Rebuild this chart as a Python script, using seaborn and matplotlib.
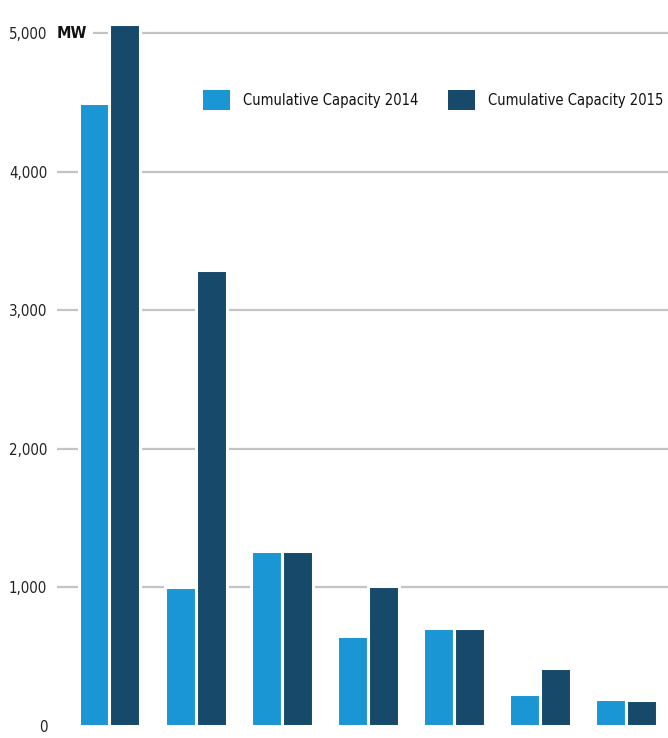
import matplotlib
matplotlib.use("Agg")
import matplotlib.pyplot as plt
import seaborn as sns
import pandas as pd
from matplotlib.patches import Patch
from matplotlib import font_manager
from matplotlib.font_manager import FontProperties

categories = ["1", "2", "3", "4", "5", "6", "7"]
cap_2014 = [4500, 1005, 1265, 650, 705, 232, 198]
cap_2015 = [5070, 3290, 1265, 1010, 705, 418, 185]
series = ["Cumulative Capacity 2014", "Cumulative Capacity 2015"]
yticks = [0, 1000, 2000, 3000, 4000, 5000]
ytick_labels = ["0", "1,000", "2,000", "3,000", "4,000", "5,000"]
colors = ["#1b96d4", "#174a6a"]

# look for a condensed / narrow sans face
reg_path, bold_path = None, None
for f in font_manager.fontManager.ttflist:
    p = f.fname
    low = p.lower()
    if ("condensed" in low or "narrow" in low) and "sans" in low and "mono" not in low \
            and "serif" not in low.replace("sans", "") and "oblique" not in low and "italic" not in low:
        if "bold" in low:
            if bold_path is None:
                bold_path = p
        elif "semi" not in low and "extra" not in low and "light" not in low:
            if reg_path is None:
                reg_path = p

sns.set_theme(style="white")
if reg_path:
    fp_reg = lambda s: FontProperties(fname=reg_path, size=s)
    scale = 1.0
else:
    fp_reg = lambda s: FontProperties(family="Liberation Sans", size=s)
    scale = 0.85
if bold_path:
    fp_bold = lambda s: FontProperties(fname=bold_path, size=s)
else:
    fp_bold = lambda s: FontProperties(family="Liberation Sans", weight="bold", size=s)

df = pd.DataFrame({
    "category": categories * 2,
    "series": [series[0]] * len(categories) + [series[1]] * len(categories),
    "value": cap_2014 + cap_2015,
})

fig = plt.figure(figsize=(6.68, 7.38), dpi=100)
ax = fig.add_axes([57 / 668, 12 / 738, 611 / 668, 726 / 738])

sns.barplot(data=df, x="category", y="value", hue="series", palette=colors,
            width=0.72, edgecolor="white", linewidth=2.2, saturation=1,
            ax=ax, legend=False, zorder=3)

ax.set_xlim(-0.61, 6.49)
ax.set_ylim(0, 5240)
ax.set_yticks(yticks)
ax.set_yticklabels(ytick_labels)
for lab in ax.get_yticklabels():
    lab.set_fontproperties(fp_reg(10.8 * scale))
    lab.set_color("#222222")
ax.tick_params(axis="y", length=0, pad=7)
ax.set_xticks([])
ax.set_xlabel("")
ax.set_ylabel("")
for s in ax.spines.values():
    s.set_visible(False)
ax.yaxis.grid(True, color="#c4c4c4", linewidth=1.6, zorder=0)
ax.get_ygridlines()[0].set_visible(False)
ax.set_axisbelow(True)

ax.text(0.0, 5000, "MW", transform=ax.get_yaxis_transform(), ha="left", va="center",
        fontproperties=fp_bold(11.5 * scale), color="#111111", zorder=2,
        bbox=dict(facecolor="white", edgecolor="none", pad=4.0))

handles = [Patch(facecolor=c, edgecolor="none") for c in colors]
fs = 10.5 * scale
fs_px = fs * 100 / 72
leg = fig.legend(handles, series, loc="center left", bbox_to_anchor=(203 / 668, 1 - 100 / 738),
                 ncol=2, frameon=False, prop=fp_reg(fs), handlelength=27 / fs_px,
                 handleheight=25 / fs_px, handletextpad=13 / fs_px,
                 columnspacing=30 / fs_px, labelcolor="#111111", borderaxespad=0, borderpad=0)

fig.savefig("out.png", dpi=100, facecolor="white")
